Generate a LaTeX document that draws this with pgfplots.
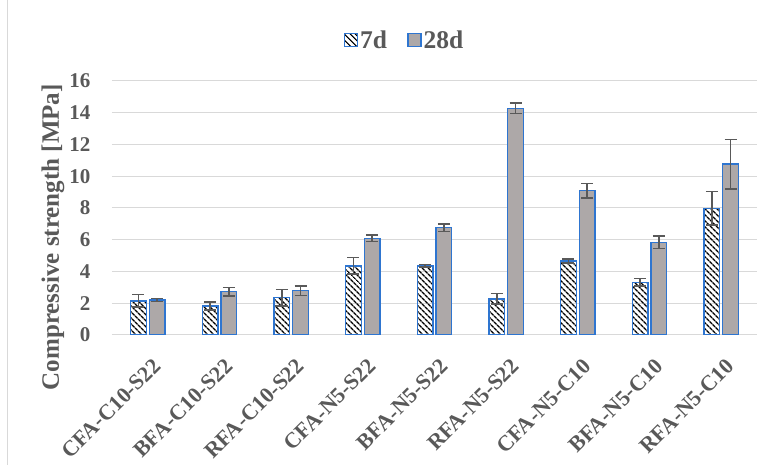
\documentclass[border=0pt]{standalone}
\usepackage{pgfplots}
\pgfplotsset{compat=1.18}
\usepackage{pgfplotstable}
\usepackage{fontspec}
\setmainfont{Liberation Serif}
\usetikzlibrary{patterns.meta}
\definecolor{barblue}{HTML}{2E75D0}
\definecolor{bargray}{HTML}{ADA8A8}
\definecolor{txt}{HTML}{595959}
\definecolor{gridc}{HTML}{D9D9D9}
\pgfplotstableread{
x a ea b eb
0 2.15 0.40 2.20 0.10
1 1.83 0.25 2.73 0.27
2 2.35 0.52 2.79 0.30
3 4.35 0.52 6.09 0.21
4 4.35 0.08 6.76 0.24
5 2.27 0.33 14.27 0.33
6 4.66 0.12 9.09 0.46
7 3.32 0.24 5.84 0.40
8 7.98 1.05 10.77 1.56
}\data
\begin{document}
\begin{tikzpicture}
\begin{axis}[
  at={(0pt,0pt)}, anchor=south west,
  scale only axis, width=645pt, height=254pt,
  ybar=3pt, bar width=0.22,
  xmin=-0.5, xmax=8.5, ymin=0, ymax=16,
  ytick={0,2,...,16},
  xtick={0,...,8},
  xticklabels={CFA-C10-S22,BFA-C10-S22,RFA-C10-S22,CFA-N5-S22,BFA-N5-S22,RFA-N5-S22,CFA-N5-C10,BFA-N5-C10,RFA-N5-C10},
  ymajorgrids, grid style={gridc, line width=1pt},
  axis line style={draw=none}, tick style={draw=none}, major tick length=0pt,
  /pgf/number format/assume math mode=true,
  yticklabel style={font=\fontsize{21}{21}\selectfont\bfseries, text=txt, xshift=-18pt},
  xticklabel style={font=\fontsize{22}{22}\selectfont\bfseries, text=txt, rotate=45, anchor=north east, inner sep=0pt, xshift=-12.7pt, yshift=-18.4pt},
  ylabel={Compressive strength [MPa]},
  ylabel style={font=\fontsize{25}{25}\selectfont\bfseries, text=txt, at={(axis description cs:-0.0915,0.385)}, anchor=center},
  legend style={draw=none, at={(0.4535,1.161)}, anchor=center, legend columns=2,
    font=\fontsize{25.5}{25.5}\selectfont\bfseries, text=txt, nodes={inner sep=2pt},
    /tikz/every even column/.append style={column sep=18pt}},
  legend image code/.code={\draw[#1] (0pt,-6.5pt) rectangle (13pt,6.5pt);},
  error bars/error bar style={txt, line width=1.5pt},
  error bars/error mark options={rotate=90, mark size=6pt, line width=1.5pt, txt},
]
\addplot[draw=barblue, line width=1.4pt, pattern={Lines[angle=-45,distance=4pt,line width=1.4pt]}, pattern color=black,
  error bars/.cd, y dir=both, y explicit] table[x=x,y=a,y error=ea] {\data};
\addlegendentry{7d}
\addplot[draw=barblue, line width=1.4pt, fill=bargray,
  error bars/.cd, y dir=both, y explicit] table[x=x,y=b,y error=eb] {\data};
\addlegendentry{28d}
\end{axis}
\pgfresetboundingbox
\path[use as bounding box] (-112pt,-130pt) rectangle (657pt,335pt);
\draw[gridc, line width=1pt] (-104pt,-130pt) -- (-104pt,335pt);
\end{tikzpicture}
\end{document}
